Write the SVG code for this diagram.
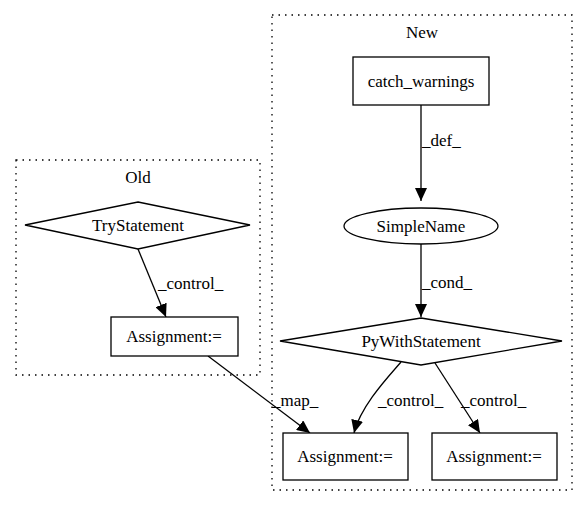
<svg xmlns="http://www.w3.org/2000/svg" width="587" height="508" viewBox="0 0 587 508" font-family="Liberation Serif, Tinos, Times New Roman, DejaVu Serif, serif">
<style>
text{font-family:'Liberation Serif','Tinos','Times New Roman','DejaVu Serif',serif;font-size:17px;fill:#000}
.c{text-anchor:middle}
.cl{fill:none;stroke:#000;stroke-width:1.3;stroke-dasharray:1.5,5}
.n{fill:#fff;stroke:#000;stroke-width:1.3}
.e{fill:none;stroke:#000;stroke-width:1.3}
</style>
<defs>
<marker id="a" markerUnits="userSpaceOnUse" markerWidth="14" markerHeight="12" viewBox="0 0 14 12" refX="13" refY="6" orient="auto">
<path d="M0,0 L13,6 L0,12 Z" fill="#000"/>
</marker>
</defs>
<g id="cluster_old">
<rect class="cl" x="16" y="160" width="244" height="215"/>
<text class="c" x="138" y="183">Old</text>
</g>
<g id="cluster_new">
<rect class="cl" x="272" y="15" width="300" height="475"/>
<text class="c" x="422" y="38">New</text>
</g>
<g id="connectors">
<path class="e" d="M138,249 L166,317" marker-end="url(#a)"/>
<text x="158" y="289">_control_</text>
<path class="e" d="M421,105 L421,201" marker-end="url(#a)"/>
<text x="422" y="146">_def_</text>
<path class="e" d="M421,244 L421,317" marker-end="url(#a)"/>
<text x="422" y="288">_cond_</text>
<path class="e" d="M401,362 C390,375 361,405 354,433" marker-end="url(#a)"/>
<text x="378" y="406">_control_</text>
<path class="e" d="M435,363 L480,433" marker-end="url(#a)"/>
<text x="461" y="406">_control_</text>
<path class="e" d="M208,356 L310,433" marker-end="url(#a)"/>
<text x="272" y="406">_map_</text>
</g>
<g id="TryStatement">
<polygon class="n" points="138,202 250,225 138,249 25,225"/>
<text class="c" x="138" y="231">TryStatement</text>
</g>
<g id="AssignmentOld">
<rect class="n" x="111" y="317" width="127" height="39"/>
<text class="c" x="174" y="342">Assignment:=</text>
</g>
<g id="catch_warnings">
<rect class="n" x="353" y="57" width="136" height="48"/>
<text class="c" x="421" y="87">catch_warnings</text>
</g>
<g id="SimpleName">
<ellipse class="n" cx="421" cy="226" rx="77" ry="18"/>
<text class="c" x="421" y="232">SimpleName</text>
</g>
<g id="PyWithStatement">
<polygon class="n" points="421,318 562,341 421,365 280,341"/>
<text class="c" x="421" y="347">PyWithStatement</text>
</g>
<g id="AssignmentNew1">
<rect class="n" x="283" y="433" width="125" height="47"/>
<text class="c" x="345" y="462">Assignment:=</text>
</g>
<g id="AssignmentNew2">
<rect class="n" x="432" y="433" width="125" height="47"/>
<text class="c" x="494" y="462">Assignment:=</text>
</g>
</svg>
